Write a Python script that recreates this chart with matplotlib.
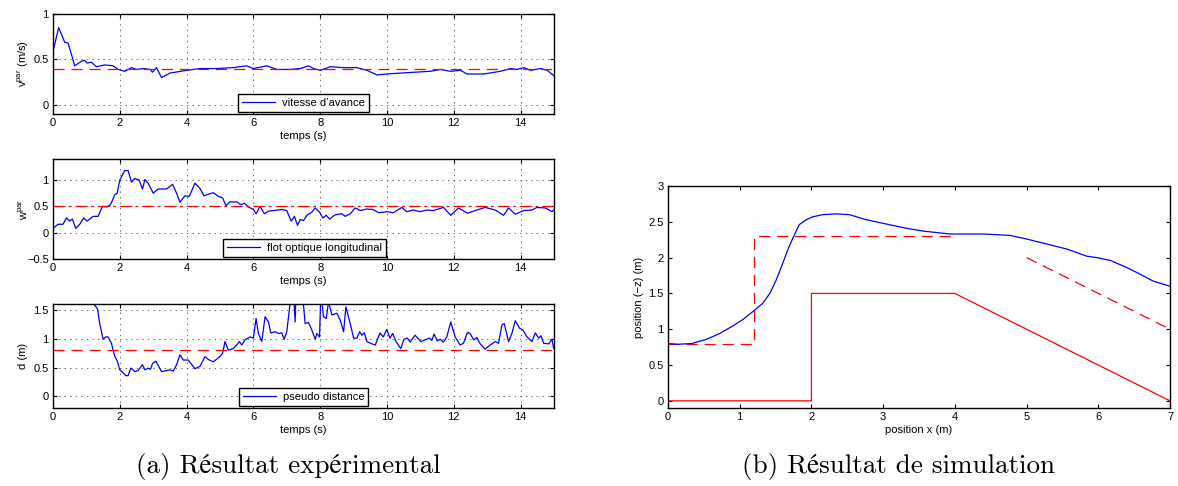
import matplotlib
matplotlib.use("Agg")
import matplotlib.pyplot as plt
import numpy as np

plt.rcParams['font.family'] = ['Liberation Sans', 'DejaVu Sans']
plt.rcParams['mathtext.fontset'] = 'custom'
plt.rcParams['mathtext.rm'] = 'Liberation Sans'
plt.rcParams['mathtext.it'] = 'Liberation Sans'
plt.rcParams['lines.scale_dashes'] = False

# ---------------- data: vitesse d'avance ----------------
t_v = [0.0, 0.17, 0.35, 0.45, 0.55, 0.65, 0.85, 0.95, 1.02, 1.15, 1.3, 1.55, 1.8, 1.95,
       2.15, 2.35, 2.5, 2.7, 2.9, 2.98, 3.1, 3.25, 3.5, 4.0, 4.4, 4.9, 5.4, 5.8, 6.0,
       6.4, 6.7, 7.1, 7.4, 7.65, 7.8, 8.0, 8.3, 8.7, 9.1, 9.4, 9.7, 10.0, 10.4, 11.3,
       11.6, 11.9, 12.2, 12.4, 12.9, 13.4, 13.7, 13.9, 14.1, 14.3, 14.6, 14.8, 15.0]
v_par = [0.59, 0.85, 0.69, 0.68, 0.56, 0.43, 0.48, 0.49, 0.46, 0.47, 0.42, 0.44, 0.43, 0.39,
         0.37, 0.41, 0.39, 0.40, 0.39, 0.36, 0.41, 0.30, 0.35, 0.38, 0.40, 0.40, 0.41, 0.43, 0.40,
         0.43, 0.39, 0.39, 0.40, 0.43, 0.40, 0.38, 0.42, 0.41, 0.41, 0.38, 0.33, 0.34, 0.35, 0.37,
         0.39, 0.37, 0.38, 0.34, 0.34, 0.37, 0.40, 0.39, 0.41, 0.38, 0.40, 0.38, 0.32]
v_ref = 0.4

# ---------------- data: flot optique ----------------
t_w = [0.0, 0.15, 0.3, 0.4, 0.5, 0.58, 0.68, 0.8, 0.92, 1.02, 1.2, 1.35, 1.48, 1.6, 1.72,
       1.85, 1.92, 2.0, 2.15, 2.25, 2.35, 2.45, 2.58, 2.68, 2.75, 2.85, 3.0, 3.15, 3.4,
       3.58, 3.7, 3.8, 3.95, 4.08, 4.25, 4.4, 4.52, 4.65, 4.8, 4.95, 5.08, 5.18, 5.3,
       5.43, 5.5, 5.62, 5.73, 5.85, 6.0, 6.08, 6.2, 6.33, 6.45, 6.6, 6.85, 7.0, 7.13,
       7.23, 7.32, 7.4, 7.5, 7.6, 7.75, 7.85, 7.98, 8.08, 8.18, 8.28, 8.45, 8.65, 8.75,
       8.9, 9.05, 9.2, 9.4, 9.58, 9.75, 9.9, 10.0, 10.19, 10.44, 10.59, 10.79, 10.99,
       11.19, 11.39, 11.69, 11.91, 12.14, 12.41, 12.64, 12.94, 13.24, 13.49, 13.64,
       13.84, 14.09, 14.34, 14.49, 14.74, 14.94, 15.0]
w_par = [0.08, 0.16, 0.16, 0.28, 0.22, 0.26, 0.08, 0.16, 0.28, 0.22, 0.31, 0.31, 0.50, 0.49, 0.53,
         0.72, 0.75, 1.00, 1.18, 1.18, 0.96, 1.03, 1.00, 0.83, 1.01, 0.94, 0.75, 0.83, 0.83,
         0.92, 0.75, 0.58, 0.70, 0.69, 0.94, 0.84, 0.70, 0.73, 0.76, 0.69, 0.66, 0.51, 0.59,
         0.58, 0.59, 0.53, 0.56, 0.49, 0.44, 0.36, 0.50, 0.36, 0.41, 0.42, 0.44, 0.42, 0.22,
         0.31, 0.14, 0.25, 0.23, 0.33, 0.39, 0.47, 0.39, 0.28, 0.33, 0.26, 0.34, 0.36, 0.31,
         0.36, 0.47, 0.42, 0.45, 0.44, 0.38, 0.39, 0.40, 0.38, 0.48, 0.40, 0.43, 0.40,
         0.43, 0.42, 0.48, 0.33, 0.47, 0.37, 0.42, 0.48, 0.43, 0.33, 0.47,
         0.35, 0.42, 0.43, 0.48, 0.47, 0.40, 0.44]
w_ref = 0.5

# ---------------- data: pseudo distance ----------------
t_d = [1.15, 1.23, 1.33, 1.4, 1.5, 1.58, 1.65, 1.75, 1.85, 1.92, 2.0, 2.1, 2.18, 2.25, 2.33,
       2.45, 2.55, 2.68, 2.75, 2.85, 2.92, 2.98, 3.08, 3.25, 3.5, 3.6, 3.7, 3.8, 3.9, 4.05,
       4.25, 4.4, 4.55, 4.65, 4.8, 5.0, 5.08, 5.15, 5.25, 5.4, 5.5, 5.58, 5.65, 5.75, 5.9,
       6.0, 6.08, 6.15, 6.25, 6.35, 6.45, 6.52, 6.65, 6.75, 6.85, 6.92, 7.0, 7.08, 7.18,
       7.25, 7.3, 7.45, 7.55, 7.65, 7.75, 7.85, 7.9, 7.98, 8.02, 8.1, 8.18, 8.25, 8.35,
       8.5, 8.6, 8.7, 8.77, 8.9, 9.0, 9.1, 9.18, 9.25, 9.32, 9.4, 9.55, 9.65, 9.79, 9.89,
       9.99, 10.09, 10.17, 10.27, 10.41, 10.51, 10.61, 10.69, 10.84, 11.01, 11.14, 11.27,
       11.34, 11.41, 11.51, 11.59, 11.69, 11.79, 11.91, 12.04, 12.19, 12.29, 12.41, 12.49,
       12.59, 12.69, 12.79, 12.94, 13.09, 13.24, 13.34, 13.44, 13.51, 13.64, 13.74, 13.84,
       13.97, 14.07, 14.19, 14.34, 14.44, 14.54, 14.61, 14.69, 14.84, 14.94, 14.99]
d_val = [1.7, 1.59, 1.52, 1.26, 0.99, 1.03, 1.03, 0.92, 0.69, 0.62, 0.46, 0.41, 0.36, 0.36, 0.49,
         0.43, 0.45, 0.55, 0.46, 0.49, 0.47, 0.57, 0.61, 0.43, 0.46, 0.44, 0.55, 0.72, 0.63, 0.63,
         0.48, 0.52, 0.69, 0.64, 0.60, 0.69, 0.75, 0.95, 0.80, 0.83, 0.89, 0.95, 0.89, 0.98, 1.03,
         1.01, 1.35, 1.09, 0.95, 1.38, 1.29, 1.10, 1.12, 1.09, 1.10, 0.99, 1.12, 1.52, 2.0,
         1.29, 2.2, 1.9, 1.26, 1.28, 1.15, 0.99, 1.09, 1.03, 1.8, 1.38, 1.35, 1.64, 1.41,
         1.44, 1.32, 1.12, 1.55, 1.26, 1.01, 1.01, 1.12, 1.06, 1.10, 0.95, 0.91, 0.89, 1.10, 1.03,
         1.16, 1.01, 1.09, 0.95, 0.83, 0.99, 1.01, 0.94, 1.06, 0.95, 0.98, 1.01,
         0.97, 1.08, 0.96, 0.99, 0.94, 1.03, 1.29, 1.03, 0.89, 0.92, 1.11, 1.09,
         0.98, 1.02, 0.91, 0.82, 0.89, 0.95, 0.92, 1.24, 1.26, 0.95, 1.09, 1.31,
         1.18, 1.15, 1.03, 0.95, 1.10, 1.01, 1.05, 0.92, 0.91, 0.99, 0.83]
d_ref = 0.8

# ---------------- data: simulation ----------------
x_traj = [0.0, 0.14, 0.33, 0.54, 0.72, 0.91, 1.05, 1.2, 1.32, 1.42, 1.51, 1.60, 1.67, 1.74,
          1.83, 1.93, 2.02, 2.16, 2.34, 2.53, 2.76, 3.04, 3.32, 3.56, 3.93, 4.4, 4.77, 5.0,
          5.28, 5.56, 5.84, 5.98, 6.17, 6.4, 6.58, 6.77, 7.0]
z_traj = [0.80, 0.79, 0.80, 0.86, 0.94, 1.05, 1.14, 1.26, 1.36, 1.50, 1.69, 1.92, 2.11, 2.27,
          2.46, 2.53, 2.57, 2.60, 2.61, 2.60, 2.53, 2.47, 2.41, 2.37, 2.33, 2.33, 2.31, 2.26,
          2.19, 2.12, 2.02, 2.00, 1.96, 1.86, 1.77, 1.67, 1.60]
x_terrain = [0, 2, 2, 4, 7]
z_terrain = [0, 0, 1.5, 1.5, 0]
x_cons1 = [0, 1.2, 1.2, 4]
z_cons1 = [0.8, 0.8, 2.3, 2.3]
x_cons2 = [5, 7]
z_cons2 = [2.0, 1.0]

caption_a = '(a) Résultat expérimental'
caption_b = '(b) Résultat de simulation'

BLUE = '#0000ff'
RED = '#ff0000'
LW = 0.9

fig = plt.figure(figsize=(11.78, 4.86), dpi=100)

W, H = 1178.0, 486.0
def box(x0, y0, x1, y1):
    return [x0 / W, 1 - y1 / H, (x1 - x0) / W, (y1 - y0) / H]

def style(ax, grid=True):
    ax.tick_params(direction='in', top=True, right=True, labelsize=8, length=3,
                   width=0.8, pad=3, colors='black')
    for s in ax.spines.values():
        s.set_linewidth(1.0)
    if grid:
        ax.grid(True, linestyle=(0, (1, 3)), color='0.35', linewidth=0.6)
    ax.set_axisbelow(True)

def ylab(ax, text, xpix, x0, x1):
    ax.set_ylabel(text, fontsize=8, va='center')
    ax.yaxis.set_label_coords((xpix - x0) / (x1 - x0), 0.5)

def legend(ax, label, x, y):
    leg = ax.legend([label], loc='lower left', bbox_to_anchor=(x, y), borderaxespad=0,
                    fontsize=8, fancybox=False, edgecolor='black', framealpha=1,
                    handlelength=3.0, borderpad=0.35, handletextpad=0.6)
    leg.get_frame().set_linewidth(1.0)

# top panel
ax1 = fig.add_axes(box(53, 14, 554, 114))
ax1.plot(t_v, v_par, color=BLUE, lw=LW)
ax1.axhline(v_ref, color=RED, lw=LW, dashes=(8, 5))
ax1.set_xlim(0, 15); ax1.set_ylim(-0.1, 1)
ax1.set_xticks(range(0, 15, 2)); ax1.set_yticks([0, 0.5, 1])
ax1.set_yticklabels(['0', '0.5', '1'])
ax1.set_xlabel('temps (s)', fontsize=8, labelpad=2)
ylab(ax1, r'$\mathrm{v}^{\mathrm{par}}$ (m/s)', 23, 53, 554)
style(ax1)
legend(ax1, 'vitesse d’avance', 0.369, 0.02)

# middle panel
ax2 = fig.add_axes(box(53, 159, 554, 259))
ax2.plot(t_w, w_par, color=BLUE, lw=LW)
ax2.axhline(w_ref, color=RED, lw=LW, dashes=(8, 3, 2, 3))
ax2.set_xlim(0, 15); ax2.set_ylim(-0.5, 1.4)
ax2.set_xticks(range(0, 15, 2)); ax2.set_yticks([-0.5, 0, 0.5, 1])
ax2.set_yticklabels(['\u22120.5', '0', '0.5', '1'])
ax2.set_xlabel('temps (s)', fontsize=8, labelpad=2)
ylab(ax2, r'$\mathrm{w}^{\mathrm{par}}$', 23.5, 53, 554)
style(ax2)
legend(ax2, 'flot optique longitudinal', 0.339, 0.02)

# bottom panel
ax3 = fig.add_axes(box(53, 304, 554, 408))
ax3.plot(t_d, d_val, color=BLUE, lw=LW)
ax3.axhline(d_ref, color=RED, lw=LW, dashes=(8, 5))
ax3.set_xlim(0, 15); ax3.set_ylim(-0.2, 1.6)
ax3.set_xticks(range(0, 15, 2)); ax3.set_yticks([0, 0.5, 1, 1.5])
ax3.set_yticklabels(['0', '0.5', '1', '1.5'])
ax3.set_xlabel('temps (s)', fontsize=8, labelpad=2)
ylab(ax3, 'd (m)', 22.5, 53, 554)
style(ax3)
legend(ax3, 'pseudo distance', 0.371, 0.02)

# right panel
ax4 = fig.add_axes(box(668, 186, 1170, 408))
ax4.plot(x_terrain, z_terrain, color=RED, lw=LW)
ax4.plot(x_cons1, z_cons1, color=RED, lw=LW, dashes=(8, 5))
ax4.plot(x_cons2, z_cons2, color=RED, lw=LW, dashes=(8, 5))
ax4.plot(x_traj, z_traj, color=BLUE, lw=LW)
ax4.set_xlim(0, 7); ax4.set_ylim(-0.1, 3)
ax4.set_xticks(range(0, 8)); ax4.set_yticks([0, 0.5, 1, 1.5, 2, 2.5, 3])
ax4.set_yticklabels(['0', '0.5', '1', '1.5', '2', '2.5', '3'])
ax4.set_xlabel('position x (m)', fontsize=8, labelpad=2)
ylab(ax4, 'position (\u2212z) (m)', 639, 668, 1170)
style(ax4, grid=False)

# captions (Computer Modern, accented letters fall back to STIX)
cap_fam = ['cmr10', 'STIXGeneral', 'DejaVu Serif']
fig.text(288 / W, 1 - 466 / H, caption_a, ha='center', va='center', fontsize=19.5,
         family=cap_fam)
fig.text(899 / W, 1 - 466 / H, caption_b, ha='center', va='center', fontsize=19.5,
         family=cap_fam)

fig.savefig('out.png', dpi=100)
